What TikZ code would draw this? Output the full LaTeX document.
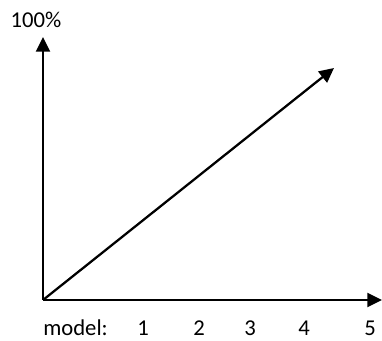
\documentclass[tikz,border=0pt]{standalone}
\usepackage{fontspec}
\setmainfont{Carlito}
\usetikzlibrary{arrows.meta,positioning}

\begin{document}
\begin{tikzpicture}[
    x=0.75pt, y=-0.75pt,
    axis/.style={-{Triangle[length=11pt, width=10.5pt]}, line width=1.7pt, black},
    lbl/.style={font=\fontsize{17}{20}\selectfont, text=black, inner sep=0pt},
]
\useasboundingbox (0,0) rectangle (382,341);

% Axes
\coordinate (orig) at (43,300);
\coordinate (ytop) at (43,37);
\coordinate (xend) at (382,300);
\coordinate (diag) at (334,68);
\draw[axis] (orig) -- (ytop);
\draw[axis] (orig) -- (xend);
\draw[axis] (orig) -- (diag);

% Labels
\node[lbl] (pct) at (36,20) {100\%};
\node[lbl, anchor=west] (model) at (43,328) {model:};
\node[lbl] (m1) at (143,328) {1};
\node[lbl] (m2) at (199,328) {2};
\node[lbl] (m3) at (250,328) {3};
\node[lbl] (m4) at (304,328) {4};
\node[lbl] (m5) at (370,328) {5};
\end{tikzpicture}
\end{document}
